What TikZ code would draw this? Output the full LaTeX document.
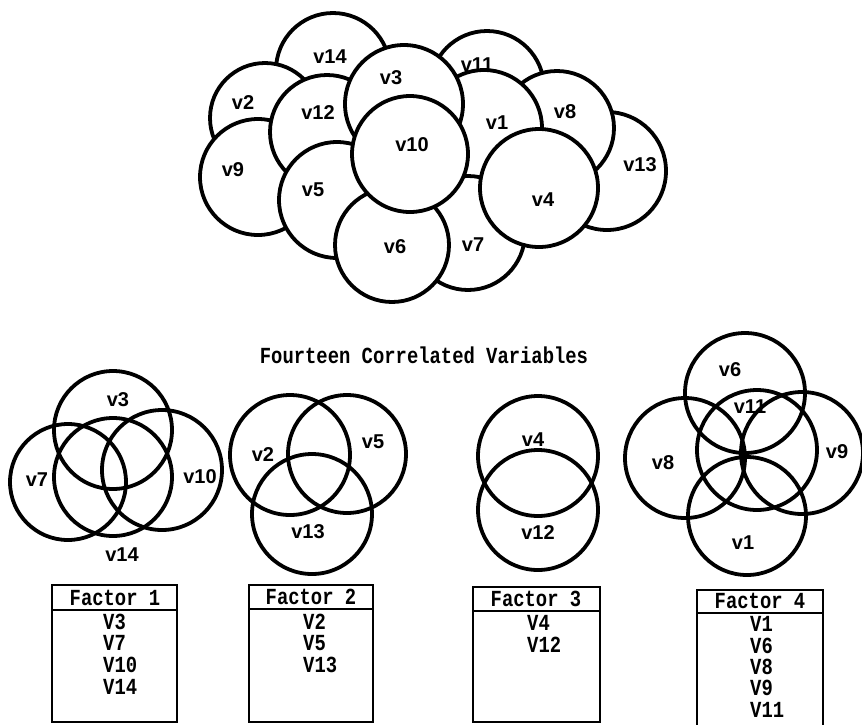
\documentclass[tikz,border=0pt]{standalone}
\usepackage{fontspec}
\newfontfamily\labfont{Liberation Sans}
\newfontfamily\twfont[FakeStretch=0.82]{Liberation Mono}

\begin{document}
\begin{tikzpicture}[x=1pt,y=-1pt,
  ring/.style={circle, draw, line width=3.8pt, inner sep=0pt, minimum size=2*#1},
  cloudring/.style={ring=#1, fill=white},
  vlab/.style={font=\labfont\bfseries\fontsize{20}{20}\selectfont, inner sep=0pt},
  twtext/.style={font=\twfont\bfseries\fontsize{23}{23}\selectfont, inner sep=0pt},
  entry/.style={twtext, anchor=west},
  frame/.style={line width=2.4pt},
]
\useasboundingbox (0,0) rectangle (862,724);

% ---------- the fourteen overlapping variables (back to front) ----------
\node[cloudring=57pt] (c14) at (333,70)  {};
\node[cloudring=55pt] (c2)  at (265,118) {};
\node[cloudring=58pt] (c9)  at (258,177) {};
\node[cloudring=57pt] (c12) at (327,132) {};
\node[cloudring=57pt] (c11) at (487,88)  {};
\node[cloudring=59pt] (c13) at (607,171) {};
\node[cloudring=57pt] (c8)  at (557,128) {};
\node[cloudring=58pt] (c1)  at (484,128) {};
\node[cloudring=57pt] (c7)  at (468,233) {};
\node[cloudring=59pt] (c4)  at (539,188) {};
\node[cloudring=58pt] (c5)  at (337,200) {};
\node[cloudring=57pt] (c6)  at (392,245) {};
\node[cloudring=59pt] (c3)  at (404,104) {};
\node[cloudring=58pt] (c10) at (410,154) {};

\node[vlab] (l14) at (330,57)  {v14};
\node[vlab] (l2)  at (243,103) {v2};
\node[vlab] (l9)  at (233,170) {v9};
\node[vlab] (l12) at (318,113) {v12};
\node[vlab] (l11) at (477,65)  {v11};
\node[vlab] (l13) at (640,165) {v13};
\node[vlab] (l8)  at (565,112) {v8};
\node[vlab] (l1)  at (497,123) {v1};
\node[vlab] (l7)  at (473,245) {v7};
\node[vlab] (l4)  at (543,200) {v4};
\node[vlab] (l5)  at (313,190) {v5};
\node[vlab] (l6)  at (395,247) {v6};
\node[vlab] (l3)  at (391,78)  {v3};
\node[vlab] (l10) at (412,145) {v10};

\node[twtext] (title) at (424,355) {Fourteen Correlated Variables};

% ---------- factor 1 ----------
\node[ring=59pt] (fa3)  at (113,430) {};
\node[ring=58pt] (fa7)  at (68,482)  {};
\node[ring=60pt] (fa10) at (162,470) {};
\node[ring=59pt] (fa14) at (113,477) {};
\node[vlab] (la3)  at (118,400) {v3};
\node[vlab] (la7)  at (37,480)  {v7};
\node[vlab] (la10) at (200,477) {v10};
\node[vlab] (la14) at (122,555) {v14};

% ---------- factor 2 ----------
\node[ring=60pt] (fb2)  at (290,455) {};
\node[ring=59pt] (fb5)  at (347,454) {};
\node[ring=60pt] (fb13) at (312,514) {};
\node[vlab] (lb2)  at (263,455) {v2};
\node[vlab] (lb5)  at (373,442) {v5};
\node[vlab] (lb13) at (308,532) {v13};

% ---------- factor 3 ----------
\node[ring=60pt] (fc4)  at (538,456) {};
\node[ring=60pt] (fc12) at (538,510) {};
\node[vlab] (lc4)  at (533,440) {v4};
\node[vlab] (lc12) at (538,533) {v12};

% ---------- factor 4 ----------
\node[ring=60pt] (fd6)  at (745,393) {};
\node[ring=60pt] (fd8)  at (685,458) {};
\node[ring=61pt] (fd9)  at (802,453) {};
\node[ring=59pt] (fd1)  at (747,516) {};
\node[ring=60pt] (fd11) at (757,450) {};
\node[vlab] (ld6)  at (730,370) {v6};
\node[vlab] (ld11) at (750,407) {v11};
\node[vlab] (ld8)  at (663,463) {v8};
\node[vlab] (ld9)  at (837,452) {v9};
\node[vlab] (ld1)  at (743,543) {v1};

% ---------- factor tables ----------
\draw[frame] (52,585) rectangle (177,722);
\draw[frame] (52,610) -- (177,610);
\node[twtext] (h1) at (115,598) {Factor 1};
\node[entry] (e13)  at (103,622) {V3};
\node[entry] (e17)  at (103,643) {V7};
\node[entry] (e110) at (103,665) {V10};
\node[entry] (e114) at (103,687) {V14};

\draw[frame] (249,585) rectangle (373,722);
\draw[frame] (249,609) -- (373,609);
\node[twtext] (h2) at (311,597) {Factor 2};
\node[entry] (e22)  at (303,622) {V2};
\node[entry] (e25)  at (303,643) {V5};
\node[entry] (e213) at (303,665) {V13};

\draw[frame] (473,587) rectangle (600,722);
\draw[frame] (473,611) -- (600,611);
\node[twtext] (h3) at (536,599) {Factor 3};
\node[entry] (e34)  at (527,623) {V4};
\node[entry] (e312) at (527,645) {V12};

\draw[frame] (697,590) rectangle (823,728);
\draw[frame] (697,613) -- (823,613);
\node[twtext] (h4) at (760,601) {Factor 4};
\node[entry] (e41)  at (750,624) {V1};
\node[entry] (e46)  at (750,646) {V6};
\node[entry] (e48)  at (750,667) {V8};
\node[entry] (e49)  at (750,688) {V9};
\node[entry] (e411) at (750,710) {V11};
\end{tikzpicture}
\end{document}
